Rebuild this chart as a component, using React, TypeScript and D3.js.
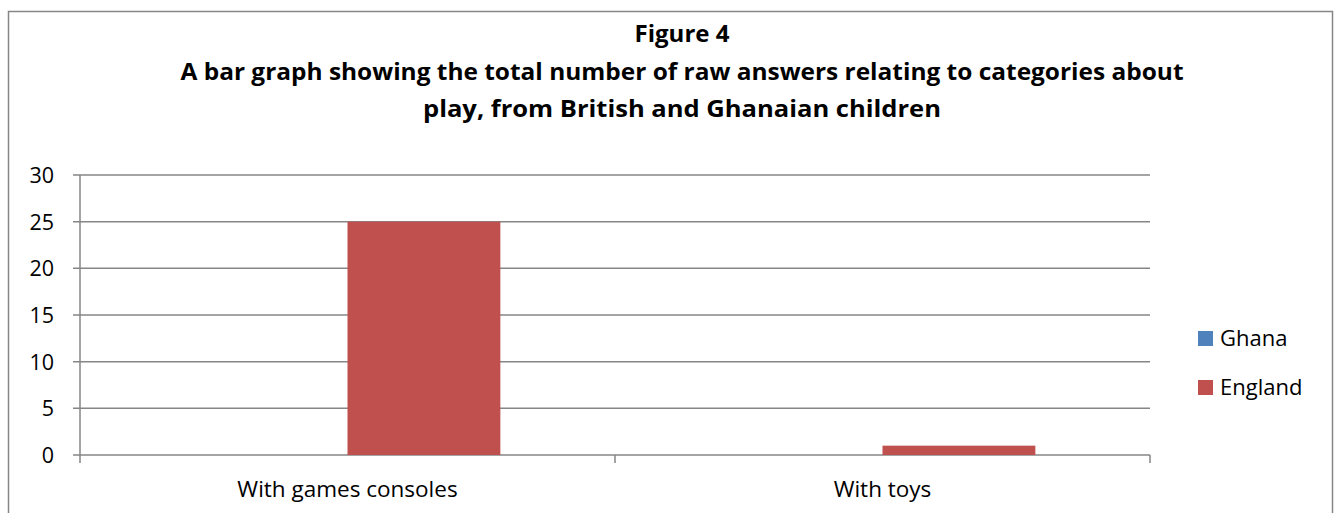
import React from "react";
import * as d3 from "d3";

const categories = ["With games consoles", "With toys"];
const seriesNames = ["Ghana", "England"];
const ghanaValues = [0, 0];
const englandValues = [25, 1];
const yTicks = [0, 5, 10, 15, 20, 25, 30];
const titleLines = [
  "Figure 4",
  "A bar graph showing the total number of raw answers relating to categories about",
  "play, from British and Ghanaian children",
];
const colors = ["#4F81BD", "#C0504D"];

export default function App() {
  const W = 1337, H = 513;
  const left = 80, right = 1150, top = 175, bottom = 455;
  const x0 = d3.scaleBand<string>().domain(categories).range([left, right]).paddingInner(0).paddingOuter(0);
  const bw = x0.bandwidth();
  const barW = bw / (2 + 1.5);
  const groupOffset = (bw - 2 * barW) / 2;
  const y = d3.scaleLinear().domain([0, 30]).range([bottom, top]);
  const series = [ghanaValues, englandValues];
  const font = "'Open Sans', sans-serif";
  const grid = "#868686";
  const titleLens = [95, 1003, 518];
  return (
    <svg width={W} height={H} style={{ position: "absolute", left: 0, top: 0 }}>
      <rect x={0} y={0} width={W} height={H} fill="#fff" />
      <rect x={8.5} y={11.5} width={1324} height={520} fill="#fff" stroke="#868686" strokeWidth={1.5} />
      {titleLines.map((t, i) => (
        <text key={i} x={682} y={42 + i * 37.5} textAnchor="middle" fontFamily={font} fontWeight="bold" fontSize={23} fill="#000"
          textLength={titleLens[i]} lengthAdjust="spacingAndGlyphs">
          {t}
        </text>
      ))}
      {yTicks.map((t) => (
        <g key={t}>
          <line x1={left - 7} x2={right} y1={y(t)} y2={y(t)} stroke={grid} strokeWidth={1.5} />
          <text x={54} y={y(t) + 8} textAnchor="end" fontFamily={font} fontSize={21.5} fill="#000">{t}</text>
        </g>
      ))}
      <line x1={left} x2={left} y1={top} y2={bottom} stroke={grid} strokeWidth={1.5} />
      {[left, ...categories.map((c) => (x0(c) as number) + bw)].map((xv, i) => (
        <line key={i} x1={xv} x2={xv} y1={bottom} y2={bottom + 8} stroke={grid} strokeWidth={1.5} />
      ))}
      {categories.map((c, ci) => (
        <g key={c}>
          {series.map((vals, si) => {
            const bx = (x0(c) as number) + groupOffset + si * barW;
            return vals[ci] > 0 ? (
              <rect key={si} x={bx} y={y(vals[ci])} width={barW} height={y(0) - y(vals[ci])} fill={colors[si]} />
            ) : null;
          })}
          <text x={(x0(c) as number) + bw / 2} y={497} textAnchor="middle" fontFamily={font} fontSize={22.5} fill="#000">{c}</text>
        </g>
      ))}
      {seriesNames.map((s, i) => (
        <g key={s}>
          <rect x={1198} y={331 + i * 49} width={15} height={15} fill={colors[i]} />
          <text x={1220} y={346 + i * 49} fontFamily={font} fontSize={22} fill="#000">{s}</text>
        </g>
      ))}
    </svg>
  );
}
